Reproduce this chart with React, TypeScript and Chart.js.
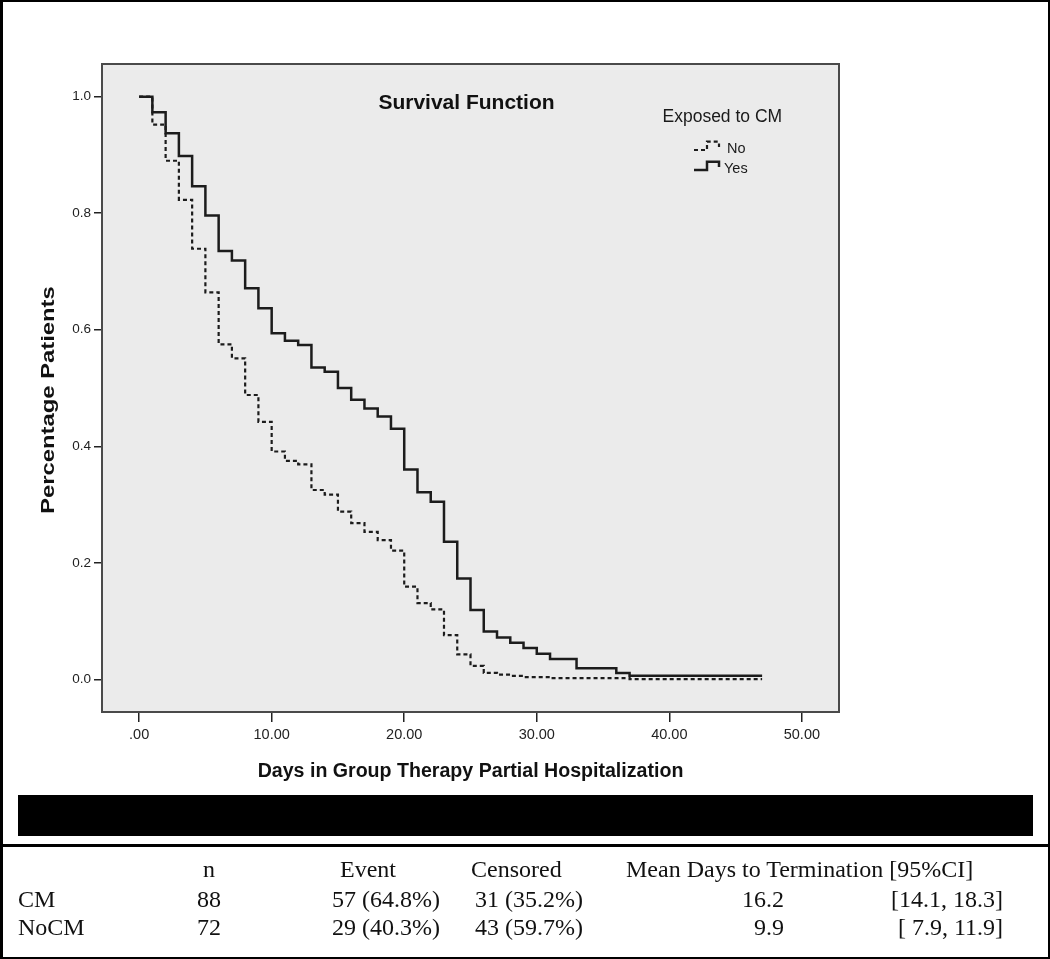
import React, { useEffect, useRef } from 'react';
import { Chart, registerables } from 'chart.js';

Chart.register(...registerables);

// ---- Data ----
const daysYes = [0, 1, 2, 3, 4, 5, 6, 7, 8, 9, 10, 11, 12, 13, 14, 15, 16, 17, 18, 19, 20, 21, 22, 23, 24, 25, 26, 27, 28, 29, 30, 31, 33, 36, 37, 47];
const survYes = [1.0, 0.973, 0.937, 0.898, 0.846, 0.796, 0.735, 0.719, 0.671, 0.637, 0.594, 0.581, 0.574, 0.535, 0.528, 0.5, 0.48, 0.465, 0.451, 0.43, 0.36, 0.321, 0.305, 0.236, 0.173, 0.119, 0.082, 0.072, 0.063, 0.054, 0.044, 0.035, 0.019, 0.011, 0.006, 0.006];

const daysNo = [0, 1, 2, 3, 4, 5, 6, 7, 8, 9, 10, 11, 12, 13, 14, 15, 16, 17, 18, 19, 20, 21, 22, 23, 24, 25, 26, 27, 28, 29, 31, 37, 47];
const survNo = [1.0, 0.952, 0.89, 0.823, 0.739, 0.664, 0.575, 0.551, 0.488, 0.442, 0.391, 0.375, 0.369, 0.325, 0.317, 0.288, 0.268, 0.253, 0.239, 0.221, 0.159, 0.131, 0.12, 0.076, 0.043, 0.023, 0.011, 0.008, 0.006, 0.004, 0.002, 0.0005, 0.0005];

const seriesLabels = ['No', 'Yes'];
const chartTitle = 'Survival Function';
const xAxisTitle = 'Days in Group Therapy Partial Hospitalization';
const yAxisTitle = 'Percentage Patients';
const legendTitle = 'Exposed to CM';

const xMin = -2.8;
const xMax = 52.8;
const yMin = -0.056;
const yMax = 1.056;

// ---- Table ----
const tableHeaders = ['n', 'Event', 'Censored', 'Mean Days to Termination [95%CI]'];
const groups = ['CM', 'NoCM'];
const nValues = ['88', '72'];
const eventValues = ['57 (64.8%)', '29 (40.3%)'];
const censoredValues = ['31 (35.2%)', '43 (59.7%)'];
const meanDays = ['16.2', '9.9'];
const ciValues = ['[14.1, 18.3]', '[ 7.9, 11.9]'];

const SANS = '"Liberation Sans", Arial, Helvetica, sans-serif';
const SERIF = '"Liberation Serif", "Times New Roman", serif';

const decorPlugin = {
  id: 'decor',
  beforeDraw(chart: any) {
    const { ctx, chartArea: a } = chart;
    ctx.save();
    ctx.fillStyle = '#ebebeb';
    ctx.fillRect(a.left, a.top, a.right - a.left, a.bottom - a.top);
    ctx.restore();
  },
  afterDraw(chart: any) {
    const { ctx, chartArea: a } = chart;
    ctx.save();
    // plot frame
    ctx.strokeStyle = '#4a4a4a';
    ctx.lineWidth = 2;
    ctx.strokeRect(a.left, a.top, a.right - a.left, a.bottom - a.top);

    const cx = (a.left + a.right) / 2;
    ctx.fillStyle = '#111';
    ctx.textBaseline = 'alphabetic';

    // chart title
    ctx.font = `bold 21px ${SANS}`;
    ctx.textAlign = 'center';
    ctx.fillText(chartTitle, cx - 4, a.top + 45);

    // x title
    ctx.font = `bold 19.6px ${SANS}`;
    ctx.fillText(xAxisTitle, cx, a.bottom + 65);

    // y title (rotated)
    ctx.save();
    ctx.translate(54, (a.top + a.bottom) / 2 + 12);
    ctx.rotate(-Math.PI / 2);
    ctx.scale(1.36, 1);
    ctx.font = `bold 17.5px ${SANS}`;
    ctx.textAlign = 'center';
    ctx.fillText(yAxisTitle, 0, 0);
    ctx.restore();

    // legend
    ctx.textAlign = 'left';
    ctx.font = `17.5px ${SANS}`;
    ctx.fillStyle = '#1a1a1a';
    ctx.fillText(legendTitle, 662.5, 121.5);

    const ds = chart.data.datasets;
    const rows = [
      { y: 150, textX: 727, textY: 152.5 },
      { y: 170, textX: 724, textY: 172.5 },
    ];
    ds.forEach((d: any, i: number) => {
      const r = rows[i];
      ctx.save();
      ctx.strokeStyle = d.borderColor;
      ctx.lineWidth = d.borderWidth;
      ctx.setLineDash(d.borderDash || []);
      ctx.beginPath();
      ctx.moveTo(694, r.y);
      ctx.lineTo(707, r.y);
      ctx.lineTo(707, r.y - 8.3);
      ctx.lineTo(719, r.y - 8.3);
      ctx.lineTo(719, r.y - 3);
      ctx.stroke();
      ctx.restore();
      ctx.font = `14.5px ${SANS}`;
      ctx.fillStyle = '#1a1a1a';
      ctx.fillText(d.label, r.textX, r.textY);
    });
    ctx.restore();
  },
};

function SurvivalChart() {
  const ref = useRef<HTMLCanvasElement | null>(null);
  useEffect(() => {
    if (!ref.current) return;
    const chart = new Chart(ref.current, {
      type: 'line',
      data: {
        datasets: [
          {
            label: seriesLabels[0],
            data: daysNo.map((d, i) => ({ x: d, y: survNo[i] })),
            stepped: 'before',
            borderColor: '#1c1c1c',
            borderWidth: 2.2,
            borderDash: [4, 3],
            pointRadius: 0,
            fill: false,
          },
          {
            label: seriesLabels[1],
            data: daysYes.map((d, i) => ({ x: d, y: survYes[i] })),
            stepped: 'before',
            borderColor: '#1c1c1c',
            borderWidth: 2.5,
            pointRadius: 0,
            fill: false,
          },
        ],
      },
      options: {
        responsive: false,
        animation: false,
        layout: { padding: { left: 0, top: 64, right: 211, bottom: 0 } },
        plugins: {
          legend: { display: false },
          tooltip: { enabled: false },
          title: { display: false },
        },
        scales: {
          x: {
            type: 'linear',
            min: xMin,
            max: xMax,
            ticks: {
              stepSize: 10,
              includeBounds: false,
              autoSkip: false,
              maxRotation: 0,
              padding: 4,
              color: '#222',
              font: { family: SANS, size: 14.5 },
              callback: (v: any) => (Number(v) === 0 ? '.00' : Number(v).toFixed(2)),
            },
            grid: {
              display: true,
              drawOnChartArea: false,
              drawTicks: true,
              tickLength: 10,
              color: '#222',
              lineWidth: 1.5,
            },
            border: { display: false },
            afterFit: (s: any) => {
              s.height = 78;
            },
          },
          y: {
            type: 'linear',
            min: yMin,
            max: yMax,
            ticks: {
              stepSize: 0.2,
              includeBounds: false,
              autoSkip: false,
              padding: 3,
              color: '#222',
              font: { family: SANS, size: 13.5 },
              callback: (v: any) => Number(v).toFixed(1),
            },
            grid: {
              display: true,
              drawOnChartArea: false,
              drawTicks: true,
              tickLength: 8,
              color: '#222',
              lineWidth: 1.5,
            },
            border: { display: false },
            afterFit: (s: any) => {
              s.width = 102;
            },
          },
        },
      },
      plugins: [decorPlugin],
    } as any);
    return () => chart.destroy();
  }, []);
  return (
    <canvas
      ref={ref}
      width={1050}
      height={790}
      style={{ position: 'absolute', left: 0, top: 0, width: 1050, height: 790, display: 'block' }}
    />
  );
}

const cellStyle = (left: number, top: number, align: 'left' | 'right' = 'left'): React.CSSProperties => ({
  position: 'absolute',
  top,
  ...(align === 'left' ? { left } : { right: 1050 - left }),
  font: `24px ${SERIF}`,
  lineHeight: '24px',
  whiteSpace: 'pre',
  color: '#111',
});

export default function App() {
  const headerTop = 857;
  const rowTops = [886.5, 915];
  return (
    <div
      style={{
        position: 'absolute',
        left: 0,
        top: 0,
        width: 1050,
        height: 959,
        background: '#fff',
        overflow: 'hidden',
      }}
    >
      <SurvivalChart />
      {/* outer frame */}
      <div
        style={{
          position: 'absolute',
          left: 0,
          top: 0,
          width: 1050,
          height: 959,
          boxSizing: 'border-box',
          borderStyle: 'solid',
          borderColor: '#000',
          borderWidth: '2px 2px 2px 3px',
          pointerEvents: 'none',
        }}
      />
      {/* black bar */}
      <div style={{ position: 'absolute', left: 18, top: 795, width: 1015, height: 41, background: '#000' }} />
      {/* separator */}
      <div style={{ position: 'absolute', left: 0, top: 844, width: 1050, height: 3, background: '#000' }} />
      {/* table */}
      <div style={cellStyle(203, headerTop)}>{tableHeaders[0]}</div>
      <div style={cellStyle(340, headerTop)}>{tableHeaders[1]}</div>
      <div style={cellStyle(471, headerTop)}>{tableHeaders[2]}</div>
      <div style={cellStyle(626, headerTop)}>{tableHeaders[3]}</div>
      {groups.map((g, i) => (
        <React.Fragment key={g}>
          <div style={cellStyle(18, rowTops[i])}>{g}</div>
          <div style={cellStyle(221, rowTops[i], 'right')}>{nValues[i]}</div>
          <div style={cellStyle(440, rowTops[i], 'right')}>{eventValues[i]}</div>
          <div style={cellStyle(583, rowTops[i], 'right')}>{censoredValues[i]}</div>
          <div style={cellStyle(784, rowTops[i], 'right')}>{meanDays[i]}</div>
          <div style={cellStyle(1003, rowTops[i], 'right')}>{ciValues[i]}</div>
        </React.Fragment>
      ))}
    </div>
  );
}
